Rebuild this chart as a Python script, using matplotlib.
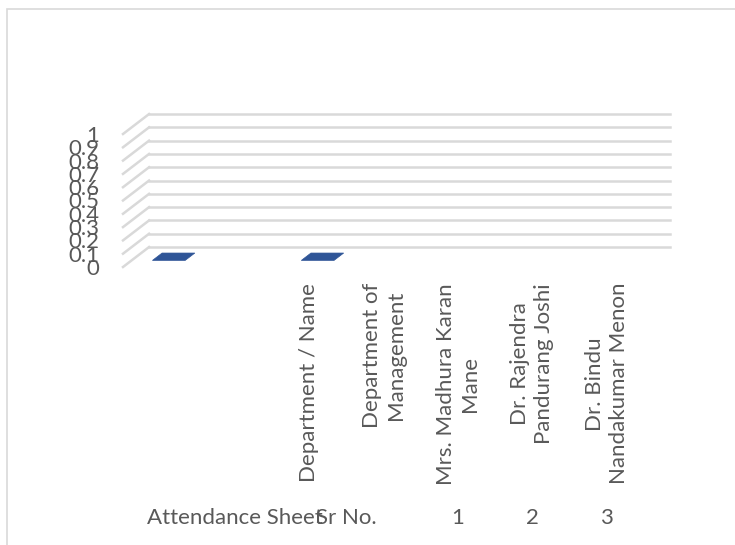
import matplotlib
matplotlib.use("Agg")
import matplotlib.pyplot as plt
from matplotlib.patches import Polygon, Rectangle
from matplotlib.transforms import blended_transform_factory

# chart data (Excel 3-D column chart, every value is zero)
inner_labels = ['', '', 'Department / Name', 'Department of\nManagement',
                'Mrs. Madhura Karan\nMane', 'Dr. Rajendra\nPandurang Joshi',
                'Dr. Bindu\nNandakumar Menon']
outer_labels = ['Attendance Sheet', 'Sr No.', '1', '2', '3']
outer_first = [1, 2, 4, 5, 6]
outer_last = [1, 3, 4, 5, 6]
values = [0, None, 0, None, None, None, None]
y_ticks = [0, 0.1, 0.2, 0.3, 0.4, 0.5, 0.6, 0.7, 0.8, 0.9, 1]

W, H = 735, 545
grid_col = '#d9d9d9'
text_col = '#595959'
bar_col = '#2f5597'
font = 'Lato'
fsize = 16

fig = plt.figure(figsize=(W / 100, H / 100), dpi=100)
fig.patch.set_facecolor('white')

# chart area border (cut off at right and bottom)
fig.patches.append(Rectangle((7 / W, -0.1), 1.2, 1.1 - 9 / H,
                             transform=fig.transFigure, fill=False,
                             edgecolor=grid_col, linewidth=1.2))

ax = fig.add_axes([123 / W, (H - 267) / H, (644 - 123) / W, 133 / H])
n = len(inner_labels)
ax.set_xlim(-0.5, n - 0.5)
ax.set_ylim(0, 1)
for s in ax.spines.values():
    s.set_visible(False)
ax.set_xticks([])
ax.set_yticks(y_ticks)
ax.set_yticklabels(['%g' % t for t in y_ticks])
ax.tick_params(axis='y', length=0, pad=17, labelcolor=text_col,
               labelsize=fsize)
for lab in ax.get_yticklabels():
    lab.set_fontfamily(font)
ax.patch.set_visible(False)

# depth of the 3-D box in data units
ddx, ddy = 0.35, 0.15

for t in y_ticks:
    ax.plot([-0.5 + ddx, n - 0.5 + ddx], [t + ddy, t + ddy], color=grid_col,
            lw=1.8, clip_on=False, zorder=1)
    ax.plot([-0.5, -0.5 + ddx], [t, t + ddy], color=grid_col,
            lw=1.8, clip_on=False, zorder=1)

# zero-height columns drawn as flat tops
bw = 0.44
f0, f1 = 0.33, 0.7
for i, v in enumerate(values):
    if v is None:
        continue
    x0, x1 = i - bw / 2, i + bw / 2
    pts = [(x0 + f0 * ddx, v + f0 * ddy), (x1 + f0 * ddx, v + f0 * ddy),
           (x1 + f1 * ddx, v + f1 * ddy), (x0 + f1 * ddx, v + f1 * ddy)]
    ax.add_patch(Polygon(pts, closed=True, facecolor=bar_col,
                         edgecolor=bar_col, lw=0.5, clip_on=False, zorder=3))

tr = blended_transform_factory(ax.transData, fig.transFigure)
for i, lab in enumerate(inner_labels):
    if lab:
        ax.text(i, (H - 283) / H, lab, transform=tr, rotation=90,
                ha='center', va='top', multialignment='center',
                color=text_col, fontsize=fsize, family=font,
                linespacing=1.25)

for lab, a, b in zip(outer_labels, outer_first, outer_last):
    ax.text((a + b) / 2, (H - 518) / H, lab, transform=tr, ha='center',
            va='center', color=text_col, fontsize=fsize, family=font)

fig.savefig('out.png', dpi=100)
